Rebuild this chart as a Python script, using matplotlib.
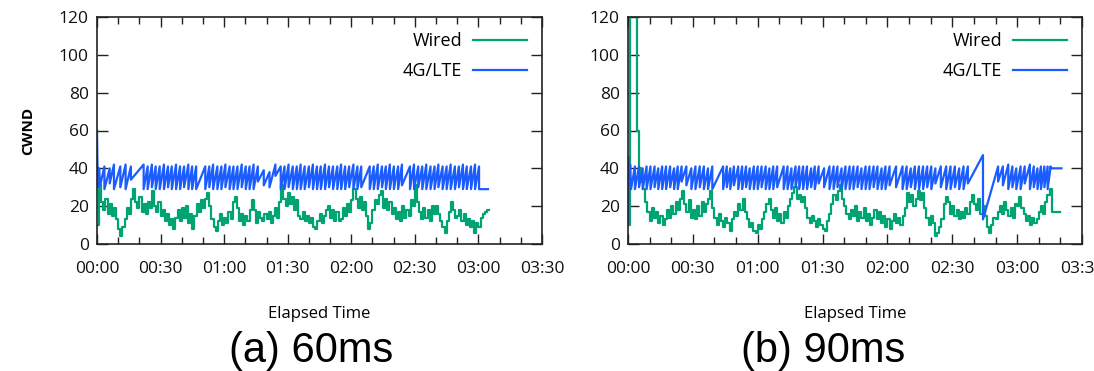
import matplotlib
matplotlib.use('Agg')
import matplotlib.pyplot as plt
from matplotlib.ticker import MultipleLocator, FuncFormatter

# CWND traces (time in seconds)
# Wired: one value per second, drawn as steps
wired_a = [10, 31, 22, 18, 24, 16, 21, 15, 19, 13,
           8, 4, 9, 13, 19, 16, 24, 29, 22, 19,
           25, 17, 21, 16, 22, 19, 28, 20, 17, 22,
           15, 18, 12, 16, 10, 13, 8, 14, 18, 12,
           19, 14, 20, 11, 16, 8, 15, 21, 17, 23,
           19, 24, 27, 20, 13, 9, 7, 12, 16, 10,
           14, 11, 17, 13, 22, 25, 19, 12, 16, 10,
           15, 12, 18, 23, 18, 11, 17, 14, 12, 16,
           13, 17, 11, 15, 19, 14, 22, 31, 24, 20,
           27, 21, 25, 18, 23, 15, 13, 17, 12, 15,
           11, 14, 9, 8, 12, 16, 11, 15, 18, 20,
           14, 18, 12, 17, 12, 13, 19, 15, 21, 17,
           23, 29, 24, 19, 25, 18, 22, 15, 8, 11,
           18, 23, 21, 26, 28, 19, 24, 18, 22, 16,
           19, 13, 17, 12, 20, 14, 18, 15, 23, 20,
           31, 22, 17, 13, 19, 14, 18, 12, 20, 16,
           20, 16, 12, 9, 6, 12, 17, 22, 18, 14,
           15, 18, 12, 16, 10, 13, 9, 12, 6, 11,
           9, 14, 16, 17, 18, 18]

wired_b = [10, 130, 130, 130, 60, 40, 33, 29, 22, 17,
           12, 19, 14, 17, 11, 15, 10, 13, 18, 14,
           20, 16, 22, 18, 24, 28, 21, 17, 23, 14,
           18, 13, 20, 15, 22, 17, 21, 24, 28, 19,
           14, 10, 16, 12, 9, 14, 11, 7, 13, 17,
           15, 21, 18, 24, 17, 13, 9, 11, 7, 6,
           10, 8, 13, 17, 21, 24, 18, 14, 19, 12,
           16, 11, 17, 14, 20, 24, 27, 30, 24, 26,
           22, 25, 19, 14, 11, 15, 12, 9, 13, 10,
           8, 7, 12, 16, 21, 26, 23, 28, 31, 24,
           20, 16, 13, 18, 15, 20, 12, 17, 14, 19,
           12, 16, 10, 14, 18, 13, 17, 11, 15, 9,
           13, 8, 12, 16, 11, 14, 10, 15, 19, 27,
           22, 26, 20, 24, 28, 23, 27, 19, 14, 10,
           15, 11, 4, 6, 9, 13, 21, 25, 22, 16,
           20, 15, 18, 13, 17, 14, 19, 16, 22, 26,
           21, 18, 24, 16, 20, 15, 9, 6, 10, 14,
           13, 17, 20, 16, 22, 18, 15, 19, 14, 21,
           20, 25, 19, 16, 12, 15, 10, 14, 11, 13,
           17, 20, 16, 22, 26, 29, 17, 17, 17, 17, 17]

# 4G/LTE: start-up points, then sawtooth teeth (length s, low, high), then flat tail
lte_a_head_t = [0, 0.2, 0.5, 1.0, 1.5]
lte_a_head_v = [60, 44, 30, 40, 31]
lte_a_len = [2.0, 2.5, 2.0, 3.0, 2.5, 2.5, 6.0,
             1.9, 2.0, 1.8, 1.9, 2.0, 1.9, 1.8, 2.0, 1.9, 1.9, 2.0, 1.8, 1.9,
             4.3,
             1.9, 1.8, 2.0, 1.9, 1.9, 2.0, 1.8, 1.9, 2.0, 1.9, 1.8, 1.9, 2.0,
             2.8, 2.7, 2.8, 2.5,
             1.8, 1.9, 2.0, 1.9, 1.8, 1.9, 2.0, 1.9, 1.9, 1.8,
             2.0, 1.9, 1.9, 2.0, 1.8, 1.9, 1.9, 2.0, 1.9, 1.8,
             4.0,
             1.9, 1.9, 2.0, 1.8, 1.9, 1.9, 2.0, 1.8,
             3.8,
             1.9, 2.0, 1.9, 1.9, 2.0, 1.9, 1.8, 2.0, 1.9,
             1.9, 2.0, 1.9, 1.9, 1.8, 2.0, 1.9, 1.9]
lte_a_low = [31, 29, 32, 29, 30, 29, 34,
             29, 29, 30, 29, 29, 29, 30, 29, 29, 29, 30, 29, 29,
             29,
             29, 30, 29, 29, 29, 30, 29, 29, 29, 30, 29, 29, 29,
             33, 31, 30, 36,
             29, 29, 30, 29, 29, 29, 29, 30, 29, 29,
             29, 29, 30, 29, 29, 29, 29, 30, 29, 29,
             30,
             29, 29, 29, 30, 29, 29, 29, 29,
             31,
             29, 29, 30, 29, 29, 29, 29, 30, 29,
             29, 29, 29, 30, 29, 29, 29, 29]
lte_a_high = [41, 40, 42, 41, 42, 41, 42,
              41, 42, 41, 41, 42, 41, 41, 42, 41, 41, 42, 41, 41,
              41,
              41, 42, 41, 41, 42, 41, 41, 41, 42, 41, 41, 42, 41,
              39, 38, 42, 41,
              41, 42, 41, 41, 42, 41, 41, 42, 41, 41,
              42, 41, 41, 41, 42, 41, 41, 42, 41, 41,
              41,
              41, 42, 41, 41, 42, 41, 41, 42,
              41,
              42, 41, 41, 42, 41, 41, 42, 41, 41,
              42, 41, 41, 42, 41, 41, 42, 41]
lte_a_tail = [29, 29]
lte_a_end = 184.5

lte_b_head_t = [0, 0.3, 0.6, 1.0, 1.4]
lte_b_head_v = [10, 46, 32, 42, 30]
lte_b_len = [1.8, 1.9, 1.7, 1.8, 1.8, 1.9, 1.7, 1.8, 1.8, 1.9, 1.8, 1.7, 1.8,
             2.2, 2.3,
             1.9, 2.0, 1.9, 1.9, 2.0,
             5.0,
             1.7, 1.6, 1.7,
             2.0,
             1.8, 1.8, 1.7, 1.9, 1.8, 1.8, 1.9, 1.7, 1.8, 1.8,
             3.0,
             1.8, 1.8, 1.9, 1.7, 1.8, 1.8, 1.9, 1.7, 1.8,
             2.5, 2.5,
             1.9, 1.8, 1.9, 1.8, 1.9, 1.8, 1.9, 1.8, 1.9, 1.8, 1.9, 1.8, 1.9, 1.8, 1.9,
             3.0, 3.0,
             1.9, 1.9, 1.9, 1.9, 1.9, 1.9, 1.9, 1.9,
             2.5, 2.5,
             2.0, 2.0, 2.0, 2.0, 2.0,
             7.0, 7.0,
             2.2, 2.5, 1.9, 1.8, 2.0, 1.9, 2.4, 1.8, 1.7, 1.6, 1.6, 1.5, 1.4]
lte_b_low = [29, 29, 30, 29, 29, 29, 30, 29, 29, 29, 30, 29, 29,
             33, 31,
             29, 29, 30, 29, 29,
             29,
             29, 30, 29,
             31,
             29, 29, 30, 29, 29, 29, 30, 29, 29, 29,
             30,
             29, 29, 29, 30, 29, 29, 29, 30, 29,
             32, 30,
             29, 29, 30, 29, 29, 29, 29, 30, 29, 29, 29, 30, 29, 29, 29,
             31, 30,
             29, 29, 30, 29, 29, 29, 30, 29,
             32, 30,
             29, 29, 30, 29, 29,
             32, 13,
             33, 31, 29, 30, 29, 29, 32, 29, 30, 29, 29, 30, 29]
lte_b_high = [41, 41, 40, 41, 41, 41, 40, 41, 41, 41, 40, 41, 41,
              41, 40,
              41, 41, 41, 40, 41,
              41,
              41, 40, 41,
              41,
              41, 41, 40, 41, 41, 41, 41, 40, 41, 41,
              41,
              41, 40, 41, 41, 41, 41, 40, 41, 41,
              40, 41,
              41, 41, 40, 41, 41, 41, 41, 40, 41, 41, 41, 41, 40, 41, 41,
              41, 41,
              41, 40, 41, 41, 41, 41, 41, 40,
              41, 41,
              41, 41, 40, 41, 41,
              47, 41,
              41, 42, 41, 40, 41, 41, 42, 41, 40, 41, 41, 41, 41]
lte_b_tail = [40, 40]
lte_b_end = 200.5

panel_names = ['(a) 60ms', '(b) 90ms']
x_tick_step = 30
x_max = 210
y_max = 120

GREEN = '#00a473'
BLUE = '#1a5cff'
TEXT_FONT = ['Open Sans', 'DejaVu Sans']


def sawtooth(head_t, head_v, lens, lows, highs, tail, t_end):
    """Build the polyline of the 4G/LTE trace from the read teeth."""
    t = list(head_t)
    v = list(head_v)
    cur = head_t[-1]
    for length, lo, hi in zip(lens, lows, highs):
        t += [cur, cur + length]
        v += [lo, hi]
        cur += length
    t += [cur, t_end]
    v += tail
    return t, v


def mmss(x, pos):
    x = int(round(x))
    return f"{x // 60:02d}:{x % 60:02d}"


fig = plt.figure(figsize=(10.94, 3.71), dpi=100)
ax_a = fig.add_axes([97 / 1094, 1 - 244 / 371, 445 / 1094, 227 / 371])
ax_b = fig.add_axes([628 / 1094, 1 - 244 / 371, 454 / 1094, 227 / 371])

panels = [
    (ax_a, wired_a, sawtooth(lte_a_head_t, lte_a_head_v, lte_a_len, lte_a_low,
                             lte_a_high, lte_a_tail, lte_a_end)),
    (ax_b, wired_b, sawtooth(lte_b_head_t, lte_b_head_v, lte_b_len, lte_b_low,
                             lte_b_high, lte_b_tail, lte_b_end)),
]

for i, (ax, wired, (lt, lv)) in enumerate(panels):
    ax.plot(range(len(wired)), wired, color=GREEN, lw=1.6,
            drawstyle='steps-post', label='Wired')
    ax.plot(lt, lv, color=BLUE, lw=1.6, label='4G/LTE')

    ax.set_xlim(0, x_max)
    ax.set_ylim(0, y_max)
    ax.xaxis.set_major_locator(MultipleLocator(x_tick_step))
    ax.xaxis.set_minor_locator(MultipleLocator(10))
    ax.yaxis.set_major_locator(MultipleLocator(20))
    ax.xaxis.set_major_formatter(FuncFormatter(mmss))
    ax.tick_params(which='both', direction='in', top=True, right=True,
                   width=1.0, color='#222222')
    ax.tick_params(which='major', length=7)
    ax.tick_params(which='minor', length=5)
    ax.tick_params(axis='x', which='major', pad=12)
    ax.tick_params(axis='y', which='major', length=8, pad=6)
    for lab in ax.get_xticklabels() + ax.get_yticklabels():
        lab.set_fontfamily(TEXT_FONT)
        lab.set_fontsize(12.5)
        lab.set_color('#111111')
    for sp in ax.spines.values():
        sp.set_linewidth(1.2)
        sp.set_color('#222222')

    ax.set_xlabel('Elapsed Time', fontsize=12, family=TEXT_FONT, labelpad=21)
    ax.legend(loc='upper right', bbox_to_anchor=(0.983, 0.965),
              frameon=False, markerfirst=False, handlelength=3.0,
              handletextpad=0.6, labelspacing=0.65, borderaxespad=0,
              prop={'family': TEXT_FONT, 'size': 13})

ax_a.set_ylabel('CWND', fontsize=11, fontweight='bold', family=TEXT_FONT,
                labelpad=17)

for name, cx in zip(panel_names, [311, 823]):
    fig.text(cx / 1094, 1 - 351 / 371, name, ha='center', va='center',
             fontsize=30, family=['Liberation Sans', 'DejaVu Sans'])

fig.savefig('out.png', dpi=100)
